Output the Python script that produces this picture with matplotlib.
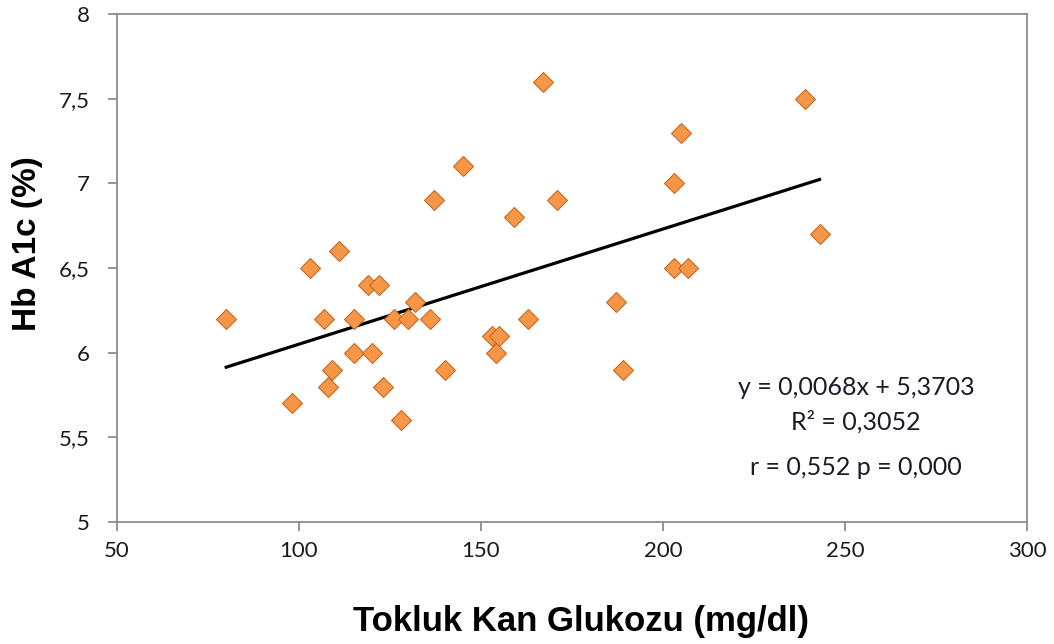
import matplotlib
matplotlib.use("Agg")
from matplotlib import pyplot as plt
from matplotlib.ticker import FuncFormatter
import numpy as np

# postprandial glucose (mg/dl) and HbA1c (%) per patient
glucose = [80, 98, 103, 107, 108, 109, 111, 115, 115, 119, 120, 122,
           123, 126, 128, 130, 132, 136, 137, 140, 145, 153, 154, 155,
           159, 163, 167, 171, 187, 189, 203, 203, 205, 207, 239, 243]
hba1c = [6.2, 5.7, 6.5, 6.2, 5.8, 5.9, 6.6, 6.2, 6.0, 6.4, 6.0, 6.4,
         5.8, 6.2, 5.6, 6.2, 6.3, 6.2, 6.9, 5.9, 7.1, 6.1, 6.0, 6.1,
         6.8, 6.2, 7.6, 6.9, 6.3, 5.9, 7.0, 6.5, 7.3, 6.5, 7.5, 6.7]

# linear trend as reported
slope = 0.0068
intercept = 5.3703
r_squared = 0.3052
r_label = "0,552"
p_label = "0,000"

x_ticks = [50, 100, 150, 200, 250, 300]
y_ticks = [5, 5.5, 6, 6.5, 7, 7.5, 8]

def comma(v, pos=None):
    return ("%g" % v).replace(".", ",")

fig = plt.figure(figsize=(10.54, 6.44), dpi=100)
ax = fig.add_axes([0.111, 0.1894, 0.8634, 0.7889])

ax.plot(glucose, hba1c, linestyle="none", marker="D", markersize=10.2,
        markerfacecolor="#F79646", markeredgecolor="#C46A26",
        markeredgewidth=0.8, zorder=3)

xs = np.array([min(glucose), max(glucose)])
ax.plot(xs, slope * xs + intercept, color="black", linewidth=2.3, zorder=2)

ax.set_xlim(50, 300)
ax.set_ylim(5, 8)
ax.set_xticks(x_ticks)
ax.set_yticks(y_ticks)
ax.xaxis.set_major_formatter(FuncFormatter(comma))
ax.yaxis.set_major_formatter(FuncFormatter(comma))

for side in ["left", "right", "top", "bottom"]:
    ax.spines[side].set_color("#8c8c8c")
    ax.spines[side].set_linewidth(1.3)

ax.tick_params(axis="both", direction="out", color="#8c8c8c", width=1.3,
               length=6.5, labelsize=16, labelcolor="#1a1a1a")
ax.tick_params(axis="x", pad=7)
ax.tick_params(axis="y", pad=13)
for lab in ax.get_xticklabels() + ax.get_yticklabels():
    lab.set_family("Lato")

ax.set_xlabel("Tokluk Kan Glukozu (mg/dl)", fontsize=25, fontweight="bold",
              family="Liberation Sans", color="black")
ax.set_ylabel("Hb A1c (%)", fontsize=24, fontweight="bold",
              family="Liberation Sans", color="black")
ax.xaxis.set_label_coords(0.51, -0.163)
ax.yaxis.set_label_coords(-0.081, 0.547)

eq = "y = " + comma(slope) + "x + " + comma(intercept)
tkw = dict(transform=ax.transAxes, ha="center", va="center", fontsize=18,
           family="Lato", color="#1a1a2a")
ax.text(0.812, 0.265, eq, **tkw)
ax.text(0.812, 0.198, "R\u00b2 = " + comma(r_squared), **tkw)
ax.text(0.812, 0.107, "r = " + r_label + " p = " + p_label, **tkw)

fig.savefig("out.png", dpi=100)
